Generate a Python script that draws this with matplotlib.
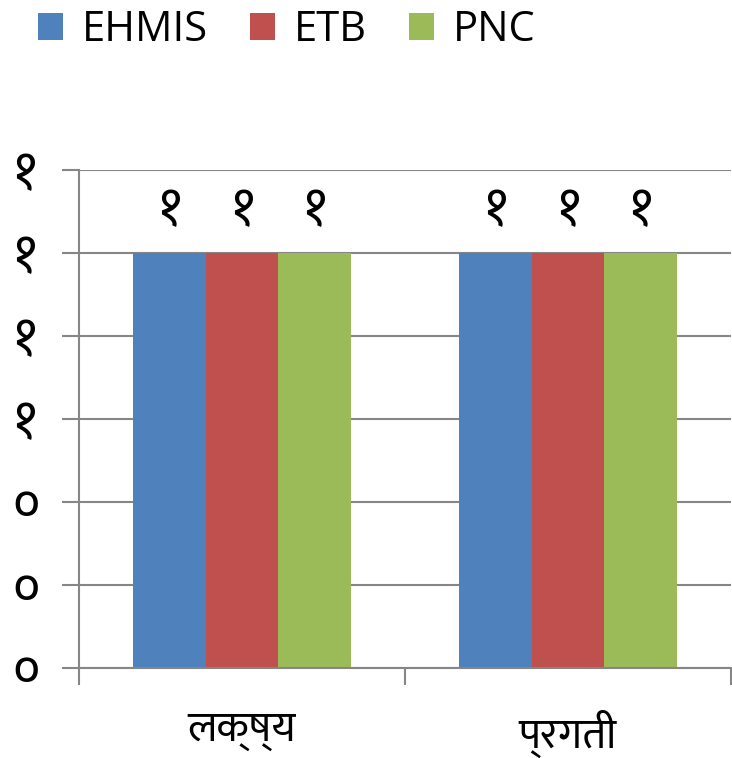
import numpy as np
import matplotlib
matplotlib.use('Agg')
from matplotlib import pyplot as plt
from matplotlib.patches import Patch

categories = ['लक्ष्य', 'प्रगती']
series = ['EHMIS', 'ETB', 'PNC']
values = {
    'EHMIS': [1, 1],
    'ETB': [1, 1],
    'PNC': [1, 1],
}
colors = ['#4F81BD', '#C0504D', '#9BBB59']
y_ticks = [0, 0.2, 0.4, 0.6, 0.8, 1.0, 1.2]
y_tick_labels = ['०', '०', '०', '१', '१', '१', '१']

deva_digits = str.maketrans('0123456789', '०१२३४५६७८९')
deva_font = ['Ek Mukta', 'FreeSans', 'DejaVu Sans']
latin_font = ['Open Sans', 'DejaVu Sans']
grid_color = '#868686'

fig = plt.figure(figsize=(7.32, 7.58), dpi=100)
ax = fig.add_axes([79 / 732, 1 - 668 / 758, 652 / 732, 498 / 758])

x = np.arange(len(categories))
width = 0.2224
for i, name in enumerate(series):
    pos = x + (i - 1) * width
    ax.bar(pos, values[name], width, color=colors[i], zorder=3)
    for px, v in zip(pos, values[name]):
        ax.text(px, v + 0.1, str(round(v)).translate(deva_digits),
                ha='center', va='center', fontsize=38, family=deva_font)

ax.set_xlim(-0.5, 1.5)
ax.set_ylim(0, 1.2)
ax.set_yticks(y_ticks)
ax.set_yticklabels(y_tick_labels, family=deva_font, fontsize=38,
                   ha='left')
ax.tick_params(axis='y', length=12, width=1.5, color=grid_color, pad=36)
ax.yaxis.grid(True, color=grid_color, linewidth=1.5, zorder=0)

ax.set_xticks([-0.5, 0.5, 1.5])
ax.set_xticklabels([])
ax.set_xticks(x, minor=True)
ax.set_xticklabels(categories, minor=True, family=deva_font, fontsize=31)
ax.tick_params(axis='x', which='major', length=12, width=1.5, color=grid_color)
ax.tick_params(axis='x', which='minor', length=0, pad=30)

for s in ['top', 'right']:
    ax.spines[s].set_visible(False)
for s in ['left', 'bottom']:
    ax.spines[s].set_color(grid_color)
    ax.spines[s].set_linewidth(1.5)
ax.spines['bottom'].set_zorder(4)

handles = [Patch(facecolor=c, label=n) for c, n in zip(colors, series)]
fig.legend(handles=handles, loc='upper left', bbox_to_anchor=(38 / 732, 1 - 9 / 758),
           ncol=3, frameon=False, prop={'family': latin_font, 'size': 30},
           handlelength=0.6, handleheight=0.6, handletextpad=0.46,
           columnspacing=1.0, borderpad=0, borderaxespad=0)

fig.savefig('out.png', dpi=100)
